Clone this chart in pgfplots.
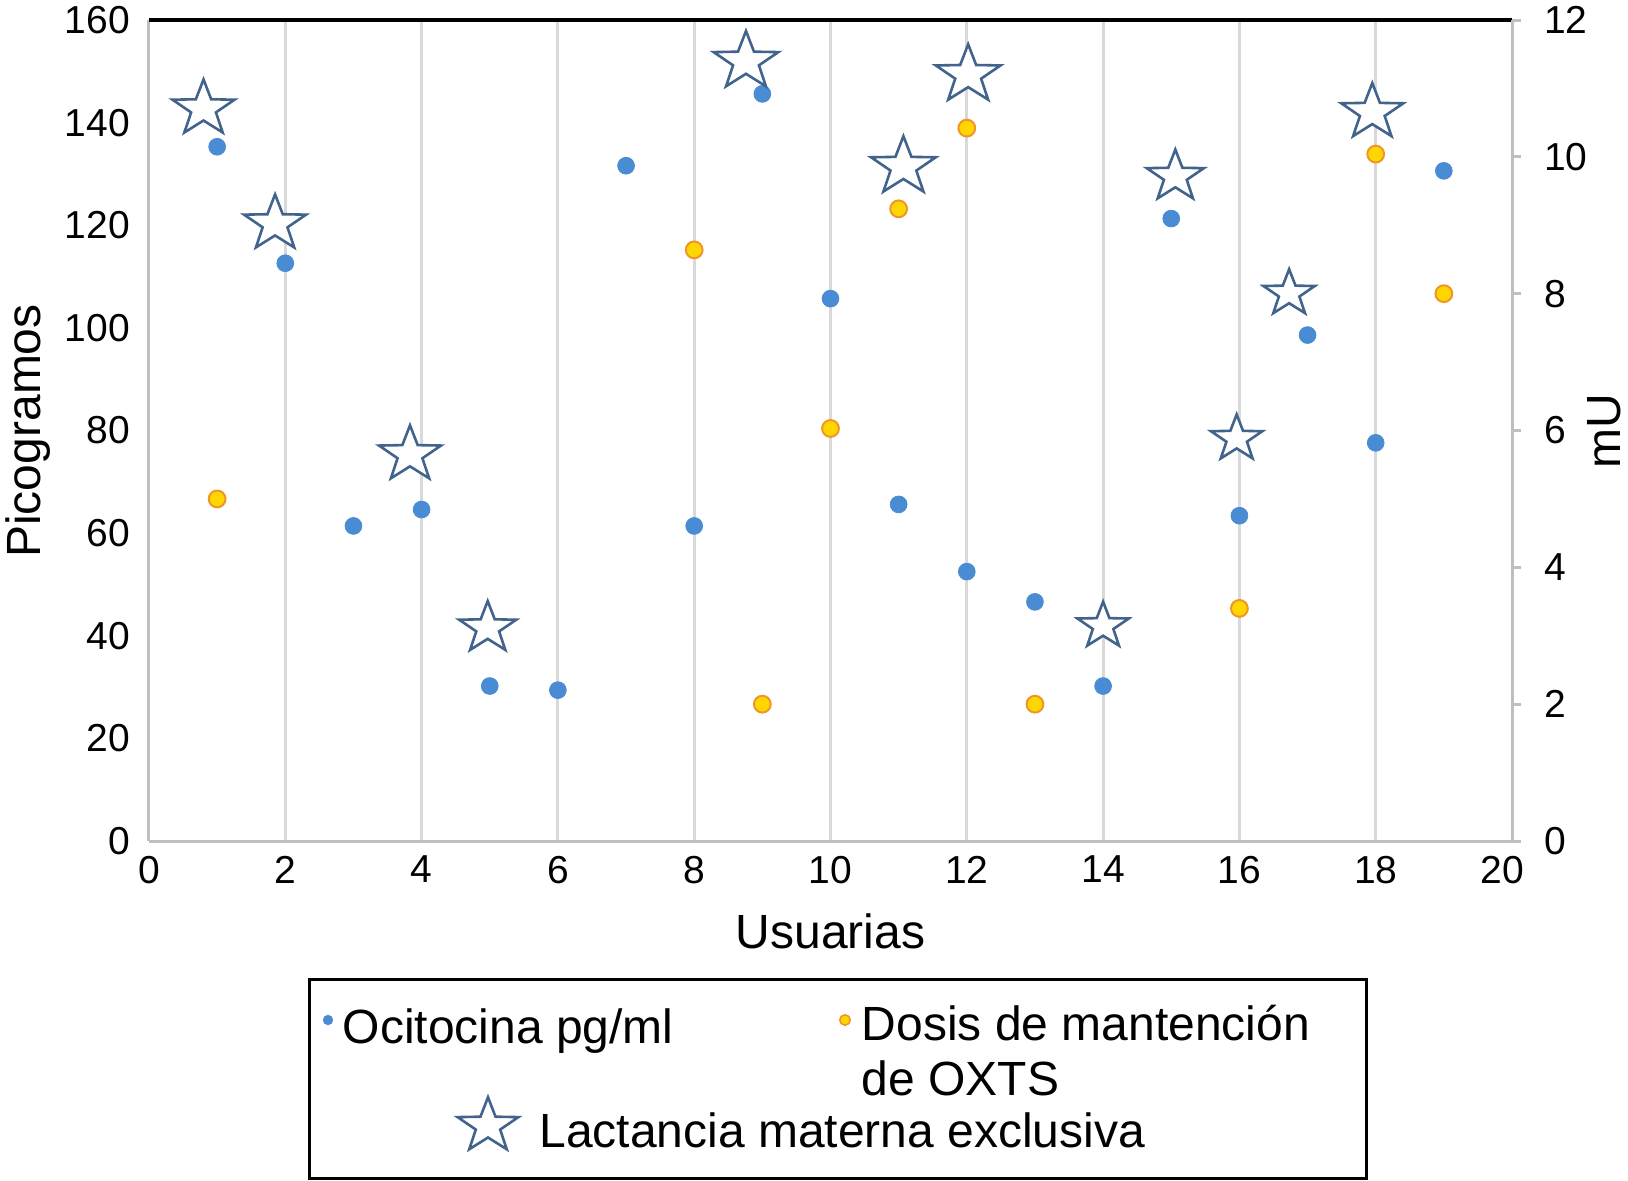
\documentclass[border=0pt]{standalone}
\usepackage{pgfplots}
\pgfplotsset{compat=1.18}
\usepackage{fontspec}
\setmainfont{Liberation Sans}
\definecolor{blued}{RGB}{74,140,212}
\definecolor{yel}{RGB}{255,214,0}
\definecolor{orn}{RGB}{240,150,40}
\definecolor{starc}{RGB}{65,99,140}
\definecolor{gridc}{RGB}{217,217,217}
\definecolor{axc}{RGB}{191,191,191}

\pgfdeclareplotmark{ostar}{%
  \pgfpathmoveto{\pgfpoint{0pt}{0.9\pgfplotmarksize}}%
  \pgfpathlineto{\pgfpoint{-0.2351\pgfplotmarksize}{0.2912\pgfplotmarksize}}%
  \pgfpathlineto{\pgfpoint{-0.9511\pgfplotmarksize}{0.2781\pgfplotmarksize}}%
  \pgfpathlineto{\pgfpoint{-0.3804\pgfplotmarksize}{-0.1112\pgfplotmarksize}}%
  \pgfpathlineto{\pgfpoint{-0.5878\pgfplotmarksize}{-0.7281\pgfplotmarksize}}%
  \pgfpathlineto{\pgfpoint{0pt}{-0.36\pgfplotmarksize}}%
  \pgfpathlineto{\pgfpoint{0.5878\pgfplotmarksize}{-0.7281\pgfplotmarksize}}%
  \pgfpathlineto{\pgfpoint{0.3804\pgfplotmarksize}{-0.1112\pgfplotmarksize}}%
  \pgfpathlineto{\pgfpoint{0.9511\pgfplotmarksize}{0.2781\pgfplotmarksize}}%
  \pgfpathlineto{\pgfpoint{0.2351\pgfplotmarksize}{0.2912\pgfplotmarksize}}%
  \pgfpathclose
  \pgfusepathqfillstroke
}

\pgfplotstableread{
x y
1 135.3
2 112.6
3 61.4
4 64.6
5 30.2
6 29.4
7 131.6
8 61.4
9 145.6
10 105.7
11 65.6
12 52.5
13 46.6
14 30.2
15 121.3
16 63.4
17 98.6
18 77.6
19 130.6
}\ocitocina

\pgfplotstableread{
x y
1 5.0
8 8.64
9 2.0
10 6.03
11 9.24
12 10.42
13 2.0
16 3.40
18 10.04
19 8.0
}\dosis

\pgfplotstableread{
x y
8.76 151.9
11.07 131.4
12.02 149.3
}\lactA
\pgfplotstableread{
x y
0.80 142.7
1.85 120.3
3.83 75.3
17.95 142.0
}\lactB
\pgfplotstableread{
x y
4.97 41.5
15.06 129.5
}\lactC
\pgfplotstableread{
x y
14.00 41.9
15.96 78.4
16.73 106.7
}\lactD

\begin{document}
\begin{tikzpicture}[x=1pt,y=1pt]
\useasboundingbox (-74.5,-169.5) rectangle (739.5,420.5);
\begin{axis}[
  at={(0,0)}, anchor=south west, scale only axis,
  width=681.5pt, height=410.5pt,
  xmin=0, xmax=20, ymin=0, ymax=160,
  xtick={0,2,...,20}, ytick={0,20,...,160},
  axis x line*=bottom, axis y line*=left,
  axis line style={draw=axc, line width=1.5pt},
  xmajorgrids, grid style={draw=gridc, line width=1.5pt},
  major tick length=0pt,
  tick style={draw=none},
  clip=false,
  /pgf/number format/assume math mode=true,
  tick label style={font=\fontsize{19.5}{23}\selectfont},
  yticklabel style={xshift=-6pt},
  xticklabel style={yshift=-4pt},
  xticklabels={0,2,4,6,8,10,12,14,16,18,\hspace*{-10pt}20},
  starmk/.style={only marks, mark=ostar, mark options={draw=starc, fill=white, line width=1.3pt}},
]
\draw[black, line width=2pt] (rel axis cs:0,1) -- (rel axis cs:1,1);
\addplot[only marks, mark=*, mark size=4.2pt, mark options={draw=blued, fill=blued}] table[x=x,y=y] {\ocitocina};
\addplot[starmk, mark size=17pt] table[x=x,y=y] {\lactA};
\addplot[starmk, mark size=16.3pt] table[x=x,y=y] {\lactB};
\addplot[starmk, mark size=15pt] table[x=x,y=y] {\lactC};
\addplot[starmk, mark size=13.5pt] table[x=x,y=y] {\lactD};
\end{axis}
\begin{axis}[
  at={(0,0)}, anchor=south west, scale only axis,
  width=681.5pt, height=410.5pt,
  xmin=0, xmax=20, ymin=0, ymax=12,
  ytick={0,2,...,12},
  axis x line=none, axis y line*=right,
  axis line style={draw=axc, line width=1.5pt},
  tick style={draw=axc, line width=1.5pt},
  tick align=outside, major tick length=4.5pt,
  clip=false,
  /pgf/number format/assume math mode=true,
  tick label style={font=\fontsize{19.5}{23}\selectfont},
  yticklabel style={xshift=8pt},
]
\addplot[only marks, mark=*, mark size=4.2pt, mark options={draw=orn, fill=yel, line width=1pt}] table[x=x,y=y] {\dosis};
\end{axis}
\node[rotate=90, font=\fontsize{24}{28}\selectfont] at (-60.5,205) {Picogramos};
\node[rotate=90, font=\fontsize{24}{28}\selectfont] at (727.5,205) {mU};
\node[font=\fontsize{24}{28}\selectfont] at (340.7,-45) {Usuarias};
% legend
\draw[black, line width=1.5pt] (80.2,-69) rectangle (608.5,-168.5);
\fill[blued] (89.5,-89.5) circle (2.6pt);
\filldraw[draw=orn, fill=yel, line width=0.8pt] (348,-89.5) circle (2.6pt);
\node[anchor=base west, inner sep=0, font=\fontsize{24}{28}\selectfont] at (96.7,-101) {Ocitocina pg/ml};
\node[anchor=base west, inner sep=0, font=\fontsize{24}{28}\selectfont] at (356.2,-99.5) {Dosis de mantención};
\node[anchor=base west, inner sep=0, font=\fontsize{24}{28}\selectfont] at (356.2,-127) {de OXTS};
\draw[starc, fill=white, line width=1.3pt, shift={(169.5,-142.5)}, scale=16]
  (0,0.9) -- (-0.2351,0.2912) -- (-0.9511,0.2781) -- (-0.3804,-0.1112) -- (-0.5878,-0.7281)
  -- (0,-0.36) -- (0.5878,-0.7281) -- (0.3804,-0.1112) -- (0.9511,0.2781) -- (0.2351,0.2912) -- cycle;
\node[anchor=base west, inner sep=0, font=\fontsize{24}{28}\selectfont] at (195,-153) {Lactancia materna exclusiva};
\end{tikzpicture}
\end{document}
